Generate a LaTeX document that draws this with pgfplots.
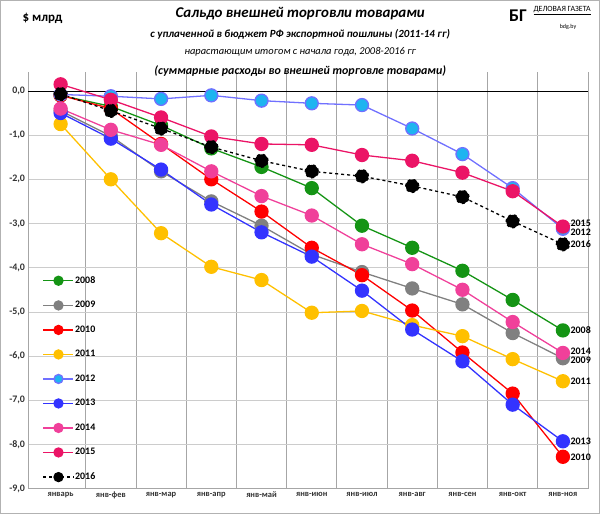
\documentclass[border=0pt]{standalone}
\usepackage{pgfplots}
\pgfplotsset{compat=1.18}
\usepackage{fontspec}
\setmainfont{Carlito}
\definecolor{c08}{HTML}{149414}
\definecolor{c09}{HTML}{808080}
\definecolor{c10}{HTML}{FF0000}
\definecolor{c11}{HTML}{FFC000}
\definecolor{c12l}{HTML}{7070FF}
\definecolor{c12m}{HTML}{1EB4F0}
\definecolor{c13}{HTML}{3333FF}
\definecolor{c14}{HTML}{F0409A}
\definecolor{c15}{HTML}{EB1466}
\begin{document}
\begin{tikzpicture}[x=1bp,y=1bp]
\begin{axis}[
  scale only axis, width=560bp, height=417bp,
  xmin=-0.64, xmax=10.5, ymin=-9, ymax=0.43,
  xtick={0,...,10},
  xticklabels={январь,янв-фев,янв-мар,янв-апр,янв-май,янв-июн,янв-июл,янв-авг,янв-сен,янв-окт,янв-ноя},
  xticklabel style={font=\fontsize{8.5}{9}\selectfont\bfseries, color=black!80},
  minor xtick={0.5,1.5,...,10.5},
  xmajorgrids=false, xminorgrids=true,
  minor grid style={gray!70, line width=0.8pt},
  ytick={-9,...,0}, ymajorgrids=true,
  major grid style={gray!40},
  yticklabel={\pgfmathparse{\tick}\pgfmathprintnumber[fixed,fixed zerofill,precision=1,use comma]{\pgfmathresult}},
  yticklabel style={font=\fontsize{10}{11}\selectfont\bfseries, color=black!80},
  /pgf/number format/assume math mode=true,
  axis line style={gray!70}, axis x line*=bottom, axis y line*=left,
  major tick length=0pt, minor tick length=0pt,
  every axis plot/.append style={line width=1.3pt, mark=*, mark size=6.5bp, mark options={solid, draw=black!70, line width=0.6pt}},
  legend style={at={(0.02,0.01)}, anchor=south west, draw=none, fill=none,
    font=\fontsize{10}{11}\selectfont\bfseries, row sep=14.5bp,
    nodes={inner sep=1bp}},
  legend cell align=left,
  legend image code/.code={\draw[#1] (0bp,0bp) -- (30bp,0bp); \draw[#1, solid, mark size=4.5bp] plot coordinates {(15bp,0bp)};},
  clip=false,
]
\draw[black, line width=0.8pt] (axis cs:-0.64,0) -- (axis cs:10.5,0);
\addplot[c08, mark options={fill=c08}] coordinates {(0,-0.1)(1,-0.35)(2,-0.78)(3,-1.3)(4,-1.72)(5,-2.2)(6,-3.05)(7,-3.55)(8,-4.07)(9,-4.73)(10,-5.42)};
\addlegendentry{2008}
\addplot[c09, mark options={fill=c09}] coordinates {(0,-0.45)(1,-1.02)(2,-1.82)(3,-2.5)(4,-3.05)(5,-3.7)(6,-4.1)(7,-4.47)(8,-4.83)(9,-5.48)(10,-6.05)};
\addlegendentry{2009}
\addplot[c10, mark options={fill=c10}] coordinates {(0,-0.1)(1,-0.4)(2,-1.2)(3,-2.0)(4,-2.73)(5,-3.55)(6,-4.17)(7,-4.97)(8,-5.92)(9,-6.85)(10,-8.28)};
\addlegendentry{2010}
\addplot[c11, mark options={fill=c11}] coordinates {(0,-0.75)(1,-2.0)(2,-3.22)(3,-3.98)(4,-4.28)(5,-5.02)(6,-4.98)(7,-5.3)(8,-5.55)(9,-6.07)(10,-6.57)};
\addlegendentry{2011}
\addplot[c12l, mark options={fill=c12m}] coordinates {(0,-0.08)(1,-0.12)(2,-0.18)(3,-0.1)(4,-0.22)(5,-0.28)(6,-0.32)(7,-0.85)(8,-1.43)(9,-2.2)(10,-3.12)};
\addlegendentry{2012}
\addplot[c13, mark options={fill=c13}] coordinates {(0,-0.5)(1,-1.08)(2,-1.78)(3,-2.57)(4,-3.2)(5,-3.75)(6,-4.52)(7,-5.4)(8,-6.12)(9,-7.1)(10,-7.93)};
\addlegendentry{2013}
\addplot[c14, mark options={fill=c14}] coordinates {(0,-0.4)(1,-0.88)(2,-1.22)(3,-1.82)(4,-2.38)(5,-2.82)(6,-3.47)(7,-3.92)(8,-4.5)(9,-5.23)(10,-5.93)};
\addlegendentry{2014}
\addplot[c15, mark options={fill=c15}] coordinates {(0,0.15)(1,-0.2)(2,-0.6)(3,-1.03)(4,-1.2)(5,-1.22)(6,-1.45)(7,-1.58)(8,-1.85)(9,-2.27)(10,-3.07)};
\addlegendentry{2015}
\addplot[black, dashed, mark options={fill=black}] coordinates {(0,-0.07)(1,-0.45)(2,-0.85)(3,-1.27)(4,-1.58)(5,-1.82)(6,-1.93)(7,-2.15)(8,-2.4)(9,-2.95)(10,-3.47)};
\addlegendentry{2016}
\begin{scope}[every node/.style={anchor=west, font=\fontsize{10}{11}\selectfont\bfseries, inner sep=0pt}]
\node at (axis cs:10.15,-3.0) {2015};
\node at (axis cs:10.15,-3.2) {2012};
\node at (axis cs:10.15,-3.47) {2016};
\node at (axis cs:10.15,-5.42) {2008};
\node at (axis cs:10.15,-5.9) {2014};
\node at (axis cs:10.15,-6.1) {2009};
\node at (axis cs:10.15,-6.57) {2011};
\node at (axis cs:10.15,-7.93) {2013};
\node at (axis cs:10.15,-8.28) {2010};
\end{scope}
\end{axis}
\path (current axis.south west) ++(-28bp,-25bp) coordinate (O);
\draw[gray!60, line width=1pt] (O) ++(0.5bp,0.5bp) rectangle ++(599bp,513bp);
\useasboundingbox (O) rectangle ++(600bp,514bp);
\node[font=\bfseries\fontsize{13}{14}\selectfont] at ([shift={(42bp,496bp)}]O) {\$ млрд};
\node[font=\bfseries\itshape\fontsize{15}{17}\selectfont] at ([shift={(300bp,500bp)}]O) {Сальдо внешней торговли товарами};
\node[font=\bfseries\itshape\fontsize{11}{12}\selectfont] at ([shift={(300bp,480bp)}]O) {с уплаченной в бюджет РФ экспортной пошлины (2011-14 гг)};
\node[font=\itshape\fontsize{10.5}{12}\selectfont] at ([shift={(300bp,462bp)}]O) {нарастающим итогом с начала года, 2008-2016 гг};
\node[font=\bfseries\itshape\fontsize{12}{14}\selectfont] at ([shift={(300bp,443bp)}]O) {(суммарные расходы во внешней торговле товарами)};
\node[font=\bfseries\fontsize{18}{18}\selectfont] at ([shift={(518bp,498bp)}]O) {БГ};
\node[font=\fontsize{8}{9}\selectfont, anchor=west] at ([shift={(530bp,503bp)}]O) {\underline{ДЕЛОВАЯ ГАЗЕТА}};
\node[font=\fontsize{6}{7}\selectfont] at ([shift={(568bp,487bp)}]O) {bdg.by};
\end{tikzpicture}
\end{document}
